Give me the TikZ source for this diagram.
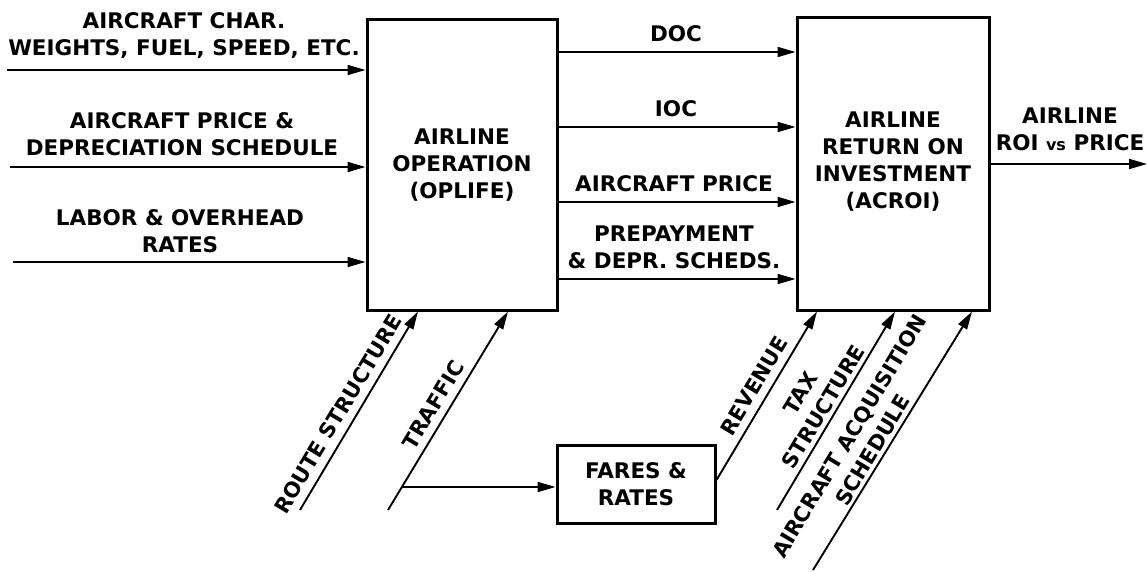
\documentclass[tikz,border=0pt]{standalone}
\usepackage{fontspec}
\setmainfont{DejaVu Sans}
\usetikzlibrary{arrows.meta}
\begin{document}
\begin{tikzpicture}[x=1pt,y=-1pt,
  lbl/.style={font=\bfseries\fontsize{21.5}{27}\selectfont, align=center, inner sep=0pt},
  dlbl/.style={font=\bfseries\fontsize{21}{27}\selectfont, align=center, inner sep=0pt, rotate=59},
  blk/.style={draw, line width=3pt, inner sep=0pt, font=\bfseries\fontsize{21.5}{27}\selectfont, align=center},
  arr/.style={line width=1.9pt, -{Triangle[length=18pt,width=10pt]}}]
\useasboundingbox (0,0) rectangle (1147,572);
% blocks
\node[blk, minimum width=190pt, minimum height=290pt] (oplife) at (462,165) {AIRLINE\\OPERATION\\(OPLIFE)};
\node[blk, minimum width=192pt, minimum height=292pt] (acroi) at (893,164) {AIRLINE\\RETURN ON\\INVESTMENT\\(ACROI)\\[-20pt]};
\node[blk, minimum width=158pt, minimum height=78pt] (fares) at (636,484) {FARES \&\\RATES};
% left inputs
\coordinate (in1) at (7,70);
\coordinate (in2) at (10,167);
\coordinate (in3) at (13,262);
\draw[arr] (in1) -- (in1 -| oplife.west);
\draw[arr] (in2) -- (in2 -| oplife.west);
\draw[arr] (in3) -- (in3 -| oplife.west);
\node[lbl] (l1) at (184,36) {AIRCRAFT CHAR.\\WEIGHTS, FUEL, SPEED, ETC.};
\node[lbl] (l2) at (182,134) {AIRCRAFT PRICE \&\\DEPRECIATION SCHEDULE};
\node[lbl] (l3) at (180,231) {LABOR \& OVERHEAD\\RATES};
% middle connectors
\coordinate (m1) at (0,52);
\coordinate (m2) at (0,127);
\coordinate (m3) at (0,202);
\coordinate (m4) at (0,279);
\draw[arr] (oplife.east |- m1) -- (acroi.west |- m1);
\draw[arr] (oplife.east |- m2) -- (acroi.west |- m2);
\draw[arr] (oplife.east |- m3) -- (acroi.west |- m3);
\draw[arr] (oplife.east |- m4) -- (acroi.west |- m4);
\node[lbl] (doc) at (676,34) {DOC};
\node[lbl] (ioc) at (676,109) {IOC};
\node[lbl] (acp) at (674,184) {AIRCRAFT PRICE};
\node[lbl] (pre) at (674,247) {PREPAYMENT\\\& DEPR. SCHEDS.};
% output
\coordinate (outend) at (1147,164);
\draw[arr] (acroi.east |- outend) -- (outend);
\node[lbl] (out) at (1070,129) {AIRLINE\\ROI {\fontsize{16}{20}\selectfont vs} PRICE};
% diagonal inputs
\coordinate (rs) at (300,510);
\coordinate (re) at (418,0);
\draw[arr] (rs) -- (re |- oplife.south);
\coordinate (ts) at (388,510);
\coordinate (te) at (508,0);
\draw[arr] (ts) -- (te |- oplife.south);
\coordinate (tb) at (402,487);
\draw[arr] (tb) -- (tb -| fares.west);
\coordinate (rvs) at (0,480);
\coordinate (rve) at (817,0);
\draw[arr] (fares.east |- rvs) -- (rve |- acroi.south);
\coordinate (txs) at (777,510);
\coordinate (txe) at (895,0);
\draw[arr] (txs) -- (txe |- acroi.south);
\coordinate (aqs) at (813,570);
\coordinate (aqe) at (972,0);
\draw[arr] (aqs) -- (aqe |- acroi.south);
\node[dlbl] (route) at (338,414) {ROUTE STRUCTURE};
\node[dlbl] (traffic) at (433,405) {TRAFFIC};
\node[dlbl] (rev) at (754,386) {REVENUE};
\node[dlbl] (tax) at (812,400) {TAX\\STRUCTURE};
\node[dlbl] (acq) at (861,443) {AIRCRAFT ACQUISITION\\SCHEDULE};
\end{tikzpicture}
\end{document}
